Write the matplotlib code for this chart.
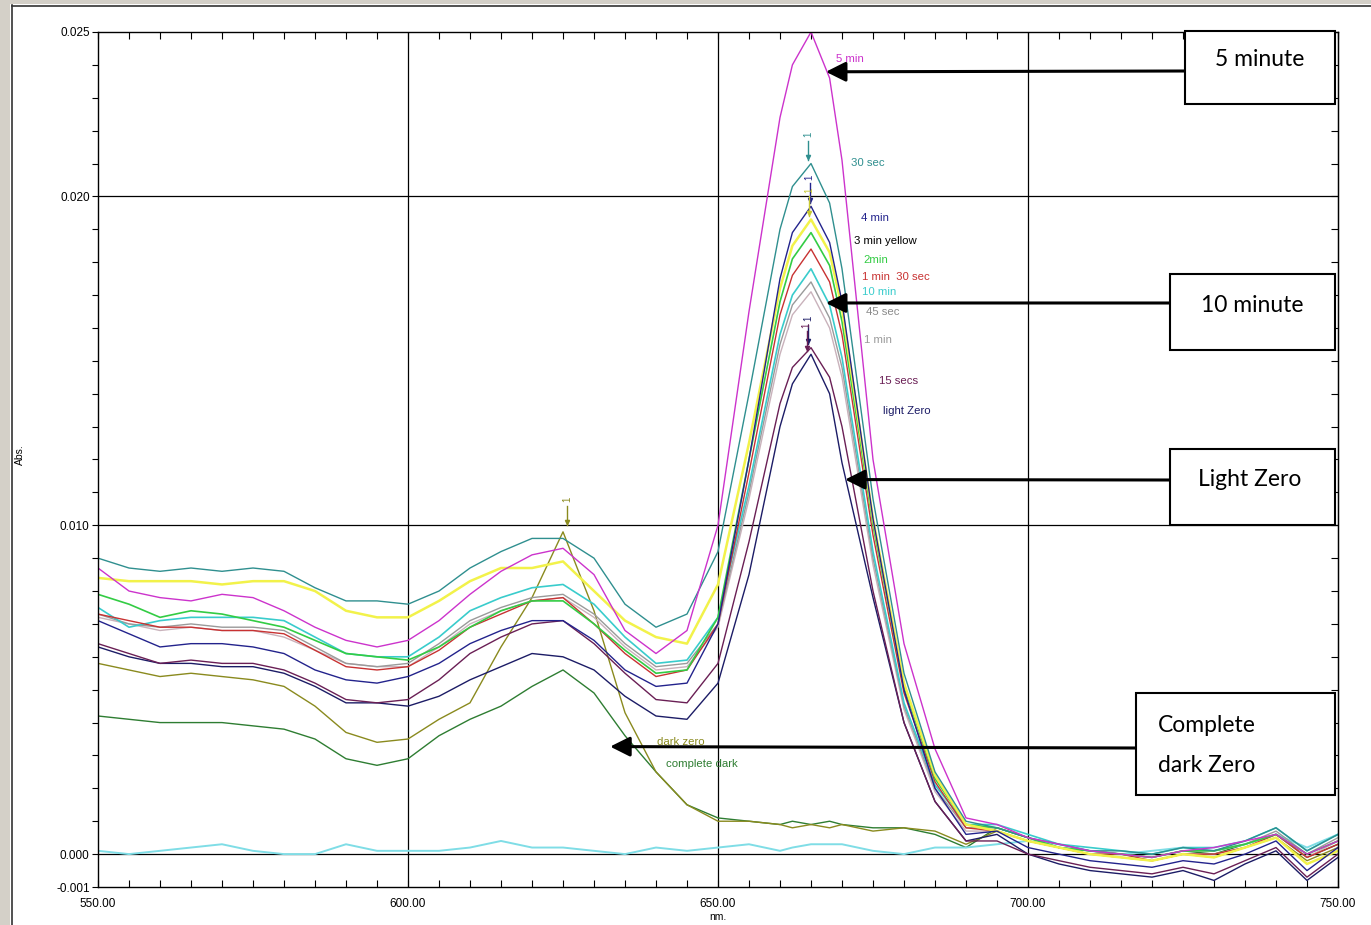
import matplotlib
matplotlib.use("Agg")
import matplotlib.pyplot as plt
from matplotlib.patches import Rectangle
from matplotlib.lines import Line2D
import numpy as np

W, H = 1371, 925

# ---------------- data ----------------
wavelength = [550, 555, 560, 565, 570, 575, 580, 585, 590, 595, 600, 605, 610, 615, 620, 625,
              630, 635, 640, 645, 650, 655, 660, 662, 665, 668, 670, 675, 680, 685, 690,
              695, 700, 705, 710, 715, 720, 725, 730, 735, 740, 745, 750]

abs_5min = [.0087, .0080, .0078, .0077, .0079, .0078, .0074, .0069, .0065, .0063, .0065, .0071, .0079, .0086, .0091, .0093,
            .0085, .0068, .0061, .0068, .0100, .0165, .0224, .0240, .0250, .0236, .0211, .0120, .0064, .0032, .0011,
            .0009, .0005, .0003, .0001, .0000, -.0001, .0001, .0002, .0004, .0006, .0000, .0004]
abs_30sec = [.0090, .0087, .0086, .0087, .0086, .0087, .0086, .0081, .0077, .0077, .0076, .0080, .0087, .0092, .0096, .0096,
             .0090, .0076, .0069, .0073, .0092, .0140, .0190, .0203, .0210, .0198, .0178, .0108, .0055, .0025, .0010,
             .0008, .0005, .0003, .0001, .0001, .0000, .0002, .0001, .0004, .0008, .0001, .0006]
abs_4min = [.0071, .0067, .0063, .0064, .0064, .0063, .0061, .0056, .0053, .0052, .0054, .0058, .0064, .0068, .0071, .0071,
            .0065, .0056, .0051, .0052, .0070, .0120, .0175, .0189, .0197, .0186, .0168, .0102, .0050, .0020, .0006,
            .0007, .0002, .0000, -.0002, -.0003, -.0004, -.0002, -.0003, .0000, .0004, -.0005, .0002]
abs_3min = [.0084, .0083, .0083, .0083, .0082, .0083, .0083, .0080, .0074, .0072, .0072, .0077, .0083, .0087, .0087, .0089,
            .0080, .0071, .0066, .0064, .0082, .0125, .0172, .0185, .0193, .0183, .0166, .0102, .0052, .0024, .0009,
            .0007, .0004, .0002, .0000, -.0001, -.0002, .0000, -.0001, .0002, .0005, -.0003, .0001]
abs_2min = [.0079, .0076, .0072, .0074, .0073, .0071, .0069, .0065, .0061, .0060, .0059, .0063, .0069, .0074, .0077, .0077,
            .0070, .0062, .0055, .0056, .0072, .0120, .0168, .0181, .0189, .0179, .0162, .0100, .0051, .0023, .0009,
            .0008, .0005, .0002, .0001, .0000, -.0001, .0001, .0001, .0003, .0006, .0000, .0004]
abs_1min30 = [.0073, .0071, .0069, .0069, .0068, .0068, .0067, .0062, .0057, .0056, .0057, .0062, .0069, .0073, .0077, .0078,
              .0070, .0061, .0054, .0056, .0070, .0116, .0164, .0176, .0184, .0174, .0158, .0097, .0049, .0022, .0008,
              .0007, .0004, .0002, .0000, .0000, -.0002, .0000, .0000, .0002, .0006, -.0001, .0003]
abs_10min = [.0075, .0069, .0071, .0072, .0072, .0072, .0071, .0066, .0061, .0060, .0060, .0066, .0074, .0078, .0081, .0082,
             .0076, .0066, .0058, .0059, .0072, .0112, .0158, .0170, .0178, .0167, .0151, .0092, .0046, .0021, .0009,
             .0009, .0006, .0003, .0002, .0001, .0000, .0002, .0002, .0004, .0008, .0001, .0006]
abs_45sec = [.0073, .0070, .0069, .0070, .0069, .0069, .0068, .0063, .0058, .0057, .0058, .0064, .0071, .0075, .0078, .0079,
             .0073, .0064, .0057, .0058, .0070, .0110, .0155, .0167, .0174, .0163, .0148, .0090, .0045, .0020, .0008,
             .0008, .0005, .0002, .0001, .0000, -.0001, .0001, .0001, .0003, .0007, .0000, .0005]
abs_1min = [.0072, .0070, .0068, .0069, .0068, .0068, .0066, .0062, .0058, .0057, .0057, .0063, .0070, .0074, .0077, .0078,
            .0072, .0063, .0056, .0057, .0069, .0108, .0152, .0164, .0171, .0160, .0145, .0088, .0044, .0019, .0007,
            .0007, .0004, .0002, .0000, -.0001, -.0002, .0000, .0000, .0002, .0006, -.0001, .0004]
abs_15sec = [.0064, .0061, .0058, .0059, .0058, .0058, .0056, .0052, .0047, .0046, .0047, .0053, .0061, .0066, .0070, .0071,
             .0064, .0055, .0047, .0046, .0058, .0095, .0137, .0148, .0154, .0145, .0130, .0080, .0040, .0016, .0004,
             .0004, .0000, -.0002, -.0004, -.0005, -.0006, -.0004, -.0006, -.0002, .0002, -.0007, .0000]
abs_light0 = [.0063, .0060, .0058, .0058, .0057, .0057, .0055, .0051, .0046, .0046, .0045, .0048, .0053, .0057, .0061, .0060,
              .0056, .0048, .0042, .0041, .0052, .0085, .0130, .0143, .0152, .0140, .0119, .0078, .0040, .0016, .0004,
              .0006, .0000, -.0003, -.0005, -.0006, -.0007, -.0005, -.0008, -.0003, .0001, -.0008, -.0001]
abs_dark0 = [.0058, .0056, .0054, .0055, .0054, .0053, .0051, .0045, .0037, .0034, .0035, .0041, .0046, .0063, .0078, .0098,
             .0074, .0043, .0025, .0015, .0010, .0010, .0009, .0008, .0009, .0008, .0009, .0007, .0008, .0007, .0003,
             .0007, .0004, .0002, .0000, -.0001, -.0002, .0000, -.0001, .0002, .0005, -.0002, .0002]
abs_cdark = [.0042, .0041, .0040, .0040, .0040, .0039, .0038, .0035, .0029, .0027, .0029, .0036, .0041, .0045, .0051, .0056,
             .0049, .0036, .0025, .0015, .0011, .0010, .0009, .0010, .0009, .0010, .0009, .0008, .0008, .0006, .0002,
             .0008, .0005, .0002, .0001, .0000, -.0001, .0001, .0000, .0003, .0006, -.0001, .0003]
abs_base = [.0001, .0000, .0001, .0002, .0003, .0001, .0000, .0000, .0003, .0001, .0001, .0001, .0002, .0004, .0002, .0002,
            .0001, .0000, .0002, .0001, .0002, .0003, .0001, .0002, .0003, .0003, .0003, .0001, .0000, .0002, .0002,
            .0003, .0004, .0003, .0001, .0000, .0001, .0002, .0001, .0003, .0006, .0002, .0006]

series_labels = ["complete dark", "dark zero", "blank", "light Zero", "15 secs", "1 min", "45 sec", "10 min",
                 "1 min  30 sec", "2min", "3 min yellow", "4 min", "30 sec", "5 min"]
series_values = [abs_cdark, abs_dark0, abs_base, abs_light0, abs_15sec, abs_1min, abs_45sec, abs_10min,
                 abs_1min30, abs_2min, abs_3min, abs_4min, abs_30sec, abs_5min]
series_colors = ["#2e7d32", "#8a8a1e", "#7fdde6", "#1c1c66", "#6a1f55", "#c9b2bb", "#9a9a9a", "#39cccc",
                 "#c83232", "#33cc44", "#f2f24a", "#23238c", "#2f8f8f", "#cc33cc"]
series_widths = [1.0, 1.0, 1.4, 1.0, 1.0, 1.0, 1.0, 1.2, 1.0, 1.2, 1.8, 1.0, 1.0, 1.0]

# ---------------- figure ----------------
fig = plt.figure(figsize=(W / 100, H / 100), dpi=100)
fig.patch.set_facecolor("white")
ax = fig.add_axes([98 / W, 1 - 887 / H, (1338 - 98) / W, (887 - 32) / H])

# grid lines
for gx in (600, 650, 700):
    ax.axvline(gx, color="black", lw=0.9, zorder=1)
for gy in (0.0, 0.010, 0.020):
    ax.axhline(gy, color="black", lw=0.9, zorder=1)

for lab, vals, col, lw in zip(series_labels, series_values, series_colors, series_widths):
    ax.plot(wavelength, vals, color=col, lw=lw, zorder=2)

ax.set_xlim(550, 750)
ax.set_ylim(-0.001, 0.025)

ax.set_xticks([550, 600, 650, 700, 750])
ax.set_xticklabels(["550.00", "600.00", "650.00", "700.00", "750.00"])
ax.set_xticks(np.arange(550, 751, 5), minor=True)
ax.set_yticks([-0.001, 0.0, 0.010, 0.020, 0.025])
ax.set_yticklabels(["-0.001", "0.000", "0.010", "0.020", "0.025"])
ax.set_yticks(np.arange(-0.001, 0.0251, 0.001), minor=True)

ax.tick_params(axis="x", which="both", direction="in", top=True, bottom=True, length=5, width=0.8,
               labelsize=8.5, pad=8)
ax.tick_params(axis="y", which="both", direction="out", left=True, right=False, length=4, width=0.8,
               labelsize=8.5, pad=2)
for lbl in ax.get_xticklabels() + ax.get_yticklabels():
    lbl.set_family("Liberation Sans")

sec = ax.secondary_yaxis("right")
sec.set_yticks(np.arange(-0.001, 0.0251, 0.001))
sec.tick_params(direction="in", length=5, width=0.8, labelright=False)

for s in ax.spines.values():
    s.set_color("black")
    s.set_linewidth(1.0)

ax.set_xlabel("nm.", fontsize=7.5, family="Liberation Sans", labelpad=1)
fig.text(20 / W, 1 - 455 / H, "Abs.", rotation=90, fontsize=7.5, family="Liberation Sans",
         ha="center", va="center")

# curve labels
lab_kw = dict(fontsize=8.2, family="Liberation Sans", ha="left", va="center", zorder=5)
ax.text(669.0, 0.02418, "5 min", color="#cc33cc", **lab_kw)
ax.text(671.5, 0.02103, "30 sec", color="#2f8f8f", **lab_kw)
ax.text(673.1, 0.01933, "4 min", color="#23238c", **lab_kw)
ax.text(671.9, 0.01864, "3 min yellow", color="black", **lab_kw)
ax.text(673.5, 0.01806, "2min", color="#33cc44", **lab_kw)
ax.text(673.2, 0.01755, "1 min  30 sec", color="#c83232", **lab_kw)
ax.text(673.2, 0.01709, "10 min", color="#39cccc", **lab_kw)
ax.text(673.9, 0.01648, "45 sec", color="#8a8a8a", **lab_kw)
ax.text(673.5, 0.01564, "1 min", color="#9a9a9a", **lab_kw)
ax.text(676.0, 0.01439, "15 secs", color="#6a1f55", **lab_kw)
ax.text(676.6, 0.01348, "light Zero", color="#1c1c66", **lab_kw)
ax.text(640.2, 0.00342, "dark zero", color="#8a8a1e", **lab_kw)
ax.text(641.6, 0.00273, "complete dark", color="#2e7d32", **lab_kw)

# peak pick markers ("1")
mk_kw = dict(fontsize=7, family="Liberation Sans", ha="center", va="bottom", rotation=90, zorder=5)
for (mx, my, col) in [(664.5, 0.0211, "#2f8f8f"), (664.8, 0.0198, "#23238c"), (664.7, 0.0194, "#c8c832"),
                      (664.5, 0.0155, "#1c1c66"), (664.3, 0.0153, "#6a1f55"), (625.7, 0.0100, "#8a8a1e")]:
    ax.plot([mx, mx], [my, my + 0.0006], color=col, lw=1.0, zorder=5)
    ax.plot([mx], [my + 0.0001], marker="v", ms=3, color=col, zorder=5)
    ax.text(mx, my + 0.0007, "1", color=col, **mk_kw)

# annotation boxes with arrows
box_font = dict(family="Lato", fontsize=16.5, color="black")


def fig_box(x0, y0, x1, y1):
    r = Rectangle((x0 / W, 1 - y1 / H), (x1 - x0) / W, (y1 - y0) / H, transform=fig.transFigure,
                  facecolor="white", edgecolor="black", lw=1.5, zorder=10)
    fig.add_artist(r)


def fig_arrow(x_start, y_px, target):
    ax.annotate("", xy=target, xycoords="data", xytext=(x_start / W, 1 - y_px / H),
                textcoords="figure fraction",
                arrowprops=dict(arrowstyle="-|>,head_length=0.6,head_width=0.3", color="black",
                                lw=2.2, mutation_scale=20, shrinkA=0, shrinkB=0),
                zorder=9, annotation_clip=False)


fig_box(1185, 31, 1335, 104)
fig.text(1260 / W, 1 - 60 / H, "5 minute", ha="center", va="center", zorder=11, **box_font)
fig_arrow(1185, 71, (667.4, 0.02379))

fig_box(1170, 274, 1335, 350)
fig.text(1252 / W, 1 - 305 / H, "10 minute", ha="center", va="center", zorder=11, **box_font)
fig_arrow(1170, 303, (667.4, 0.01676))

fig_box(1170, 449, 1335, 525)
fig.text(1250 / W, 1 - 480 / H, "Light Zero", ha="center", va="center", zorder=11, **box_font)
fig_arrow(1170, 480, (670.5, 0.01139))

fig_box(1136, 693, 1335, 795)
fig.text(1158 / W, 1 - 725 / H, "Complete", ha="left", va="center", zorder=11, **box_font)
fig.text(1158 / W, 1 - 766 / H, "dark Zero", ha="left", va="center", zorder=11, **box_font)
fig_arrow(1136, 748, (632.6, 0.00327))

# window frame decoration
fig.add_artist(Rectangle((0, 0), 10 / W, 1, transform=fig.transFigure, facecolor="#d4d0c8",
                         edgecolor="none", zorder=0))
fig.add_artist(Rectangle((0, 1 - 4 / H), 1, 4 / H, transform=fig.transFigure, facecolor="#d4d0c8",
                         edgecolor="none", zorder=0))
fig.add_artist(Line2D([11.5 / W, 11.5 / W], [0, 1 - 5 / H], transform=fig.transFigure, color="#333333", lw=1.2))
fig.add_artist(Line2D([11.5 / W, 1], [1 - 5.5 / H, 1 - 5.5 / H], transform=fig.transFigure, color="#333333", lw=1.2))

fig.savefig("out.png", dpi=100)
